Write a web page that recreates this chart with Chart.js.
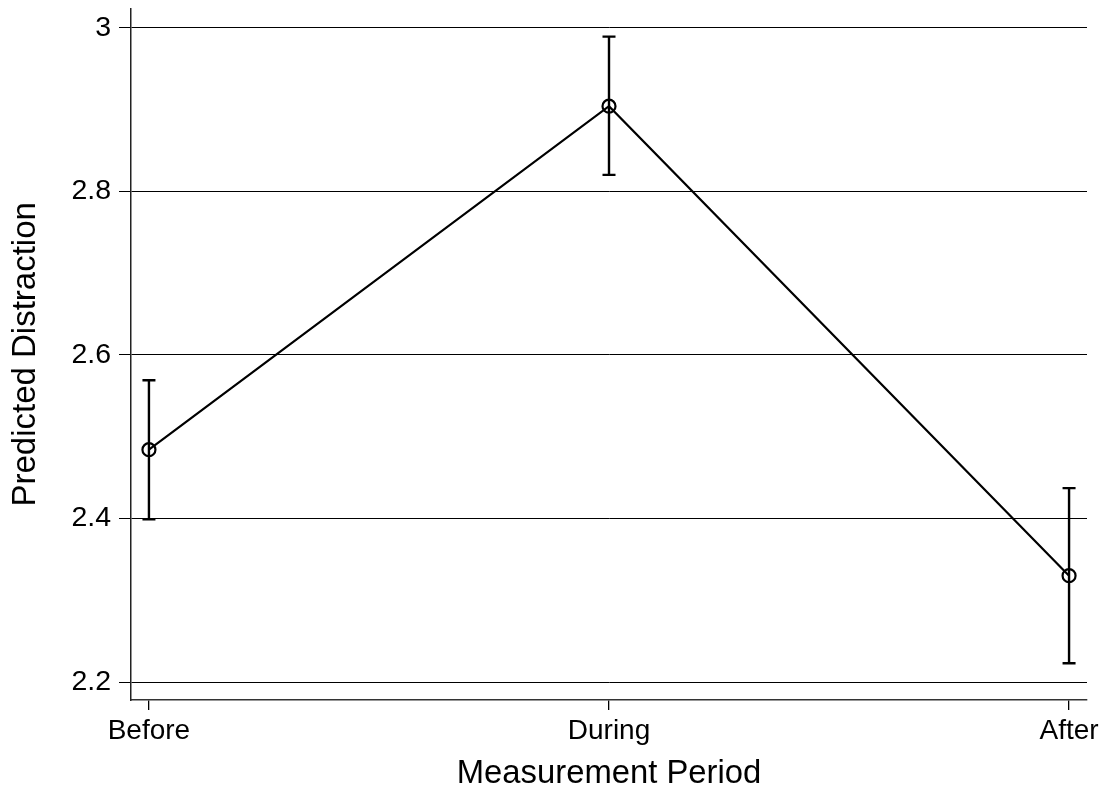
<!DOCTYPE html>
<html>
<head>
<meta charset="utf-8">
<script src="https://cdn.jsdelivr.net/npm/chart.js@4"></script>
<style>
  html, body { margin: 0; padding: 0; background: #fff; }
  #wrap { width: 1107px; height: 789px; position: relative; }
</style>
</head>
<body>
<div id="wrap"><canvas id="c"></canvas></div>
<script>
// Measurement periods and predicted distraction with 95% CI bounds
const periods = ['Before', 'During', 'After'];
const predicted = [2.484, 2.904, 2.330];
const ciLower = [2.399, 2.820, 2.223];
const ciUpper = [2.569, 2.989, 2.437];
const yTicks = [2.2, 2.4, 2.6, 2.8, 3.0];

const FONT = "'Liberation Sans', Arial, Helvetica, sans-serif";

// Draws vertical confidence-interval whiskers with caps
const errorBars = {
  id: 'errorBars',
  afterDatasetsDraw(chart) {
    const { ctx, scales: { x, y } } = chart;
    ctx.save();
    ctx.strokeStyle = '#000';
    ctx.lineWidth = 2.4;
    const cap = 6.5;
    periods.forEach((_, i) => {
      const px = x.getPixelForValue(i);
      const top = y.getPixelForValue(ciUpper[i]);
      const bot = y.getPixelForValue(ciLower[i]);
      ctx.beginPath();
      ctx.moveTo(px, top); ctx.lineTo(px, bot);
      ctx.moveTo(px - cap, top); ctx.lineTo(px + cap, top);
      ctx.moveTo(px - cap, bot); ctx.lineTo(px + cap, bot);
      ctx.stroke();
    });
    ctx.restore();
  }
};

new Chart(document.getElementById('c'), {
  type: 'line',
  data: {
    datasets: [{
      data: predicted.map((v, i) => ({ x: i, y: v })),
      borderColor: '#000',
      borderWidth: 2.2,
      pointRadius: 6.5,
      pointBorderWidth: 2.2,
      pointBorderColor: '#000',
      pointBackgroundColor: 'rgba(0,0,0,0)',
      tension: 0,
      fill: false
    }]
  },
  options: {
    responsive: true,
    maintainAspectRatio: false,
    animation: false,
    layout: { padding: { top: 7, right: 20, left: 0, bottom: 0 } },
    plugins: { legend: { display: false }, tooltip: { enabled: false } },
    scales: {
      x: {
        type: 'linear',
        min: -0.039,
        max: 2.039,
        afterBuildTicks: s => { s.ticks = periods.map((_, i) => ({ value: i })); },
        afterFit: s => { s.height = 89; s.paddingLeft = 0; s.paddingRight = 0; },
        ticks: {
          callback: v => periods[v],
          color: '#000',
          font: { family: FONT, size: 28 },
          padding: 4,
          maxRotation: 0,
          autoSkip: false
        },
        grid: { drawOnChartArea: false, drawTicks: true, tickLength: 10, color: '#000', lineWidth: 1.3 },
        border: { display: true, color: '#333', width: 1.5 },
        title: {
          display: true,
          text: 'Measurement Period',
          color: '#000',
          font: { family: FONT, size: 32.8, lineHeight: 0.9 },
          padding: { top: 0, bottom: 0 }
        }
      },
      y: {
        min: 2.178,
        max: 3.0232,
        afterBuildTicks: s => { s.ticks = yTicks.map(v => ({ value: v })); },
        afterFit: s => { s.width = 131; s.paddingTop = 0; s.paddingBottom = 0; },
        ticks: {
          callback: v => (Math.abs(v - 3) < 1e-9 ? '3' : v.toFixed(1)),
          color: '#000',
          font: { family: FONT, size: 28.5 },
          padding: 8
        },
        grid: { drawOnChartArea: true, drawTicks: true, tickLength: 12, color: '#000', lineWidth: 1 },
        border: { display: true, color: '#222', width: 1.5 },
        title: {
          display: true,
          text: 'Predicted Distraction',
          color: '#000',
          font: { family: FONT, size: 33, lineHeight: 1 },
          padding: { top: 9, bottom: 0 }
        }
      }
    }
  },
  plugins: [errorBars]
});
</script>
</body>
</html>
